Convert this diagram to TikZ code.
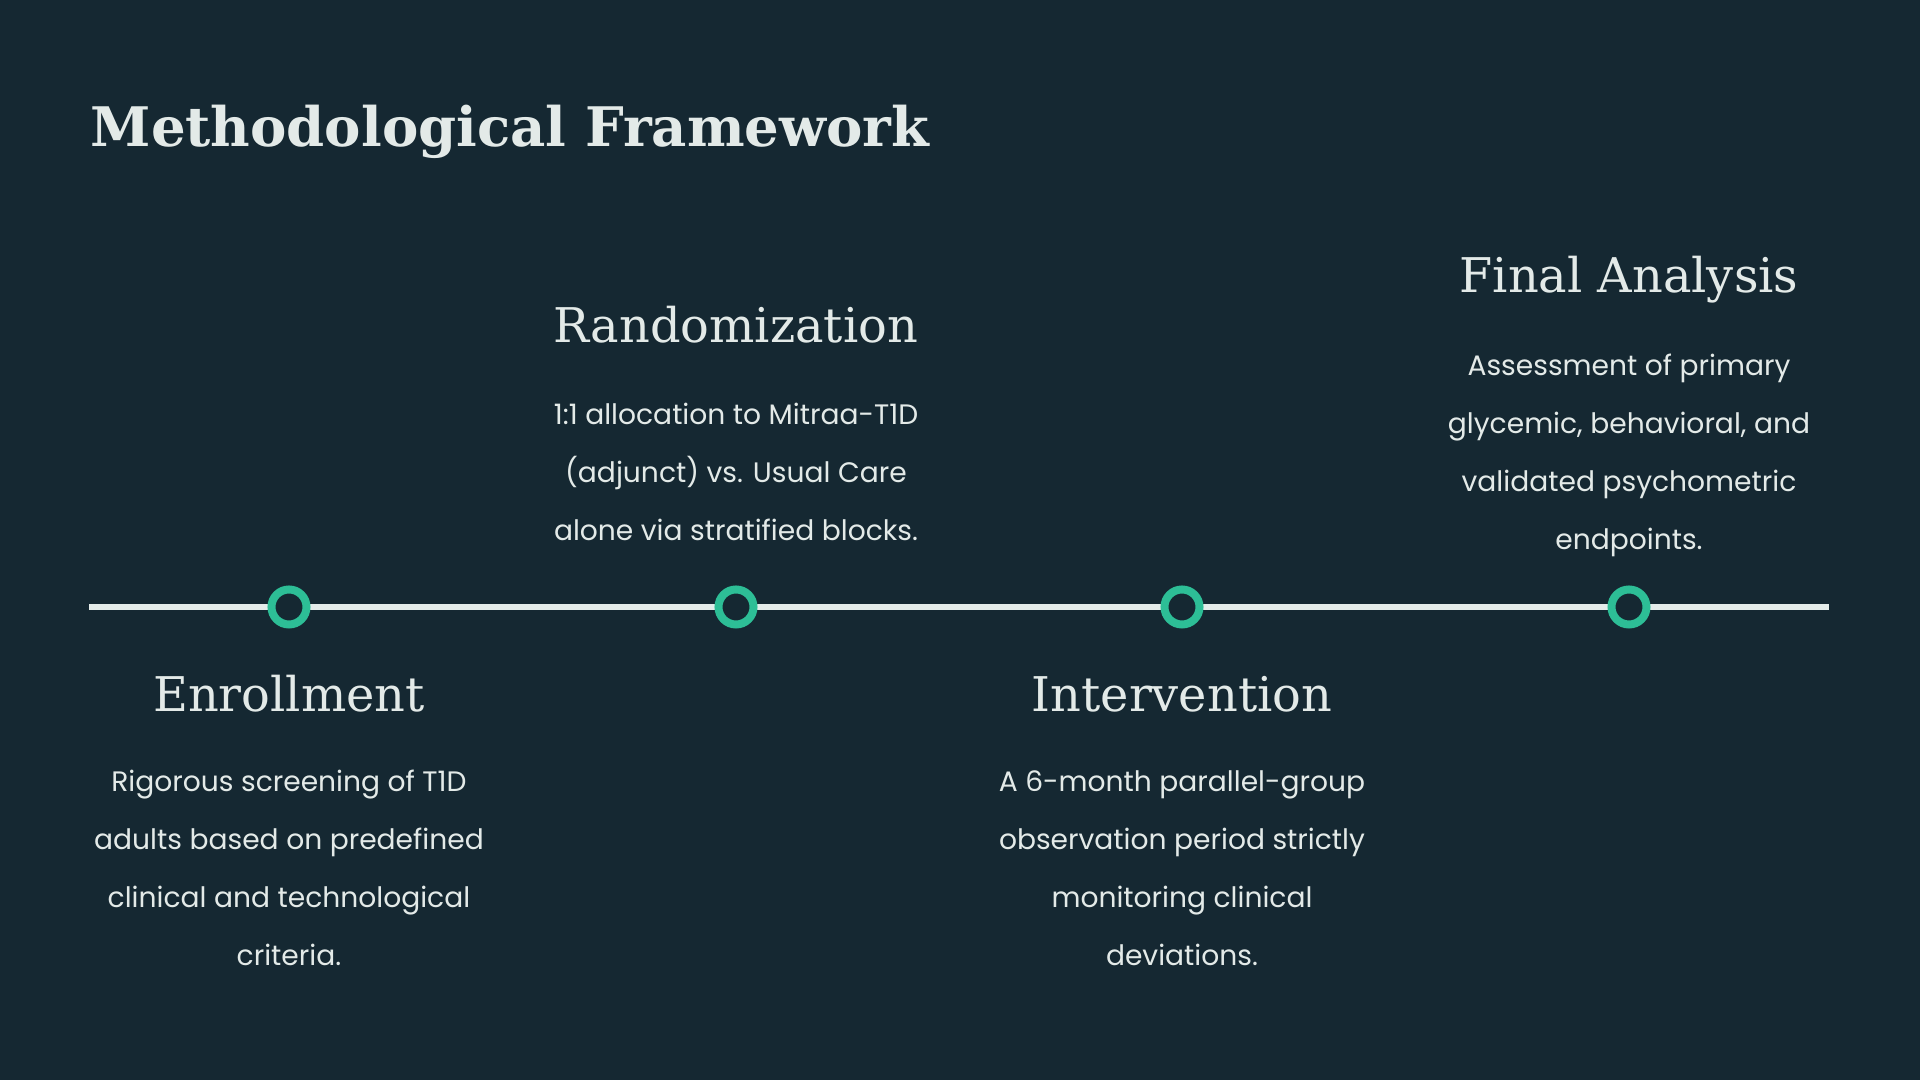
\documentclass[tikz,border=0pt]{standalone}
\usepackage{fontspec}
\setmainfont{DejaVu Serif}
\newfontfamily\bodyfont{Poppins}
\definecolor{bgdark}{HTML}{152832}
\definecolor{ringgreen}{HTML}{2DBE96}
\definecolor{railgray}{HTML}{E4ECEA}
\definecolor{inklight}{HTML}{E3EAE8}

\begin{document}
\begin{tikzpicture}[x=0.01cm,y=-0.01cm,
  phasetitle/.style={anchor=base,text=inklight,font=\fontsize{13.6}{16}\selectfont},
  phasetext/.style={anchor=base,align=center,text=inklight,font=\bodyfont\fontsize{8}{16.55}\selectfont},
  marker/.style={circle,draw=ringgreen,fill=bgdark,line width=0.08cm,minimum size=0.35cm,inner sep=0pt}]
\useasboundingbox (0,0) rectangle (1920,1080);
\fill[bgdark] (0,0) rectangle (1920,1080);
\node[anchor=base west,inner sep=0pt,text=inklight,font=\bfseries\fontsize{15.5}{20}\selectfont] (title) at (90,147) {Methodological Framework};
% timeline
\coordinate (railstart) at (89,607);
\coordinate (railend) at (1829,607);
\draw[railgray,line width=0.06cm] (railstart) -- (railend);
\node[marker] (m1) at (289,607) {};
\node[marker] (m2) at (736,607) {};
\node[marker] (m3) at (1182,607) {};
\node[marker] (m4) at (1629,607) {};
% phases (text nodes sit on their last line)
\node[phasetitle] (enroll) at (289,712) {Enrollment};
\node[phasetext] (enrolltext) at (289,966) {Rigorous screening of T1D\\adults based on predefined\\clinical and technological\\criteria.};
\node[phasetitle] (random) at (736,343) {Randomization};
\node[phasetext] (randomtext) at (736,541) {1:1 allocation to Mitraa-T1D\\(adjunct) vs. Usual Care\\alone via stratified blocks.};
\node[phasetitle] (interv) at (1182,712) {Intervention};
\node[phasetext] (intervtext) at (1182,966) {A 6-month parallel-group\\observation period strictly\\monitoring clinical\\deviations.};
\node[phasetitle] (final) at (1629,293) {Final Analysis};
\node[phasetext] (finaltext) at (1629,550) {Assessment of primary\\glycemic, behavioral, and\\validated psychometric\\endpoints.};
\end{tikzpicture}
\end{document}
